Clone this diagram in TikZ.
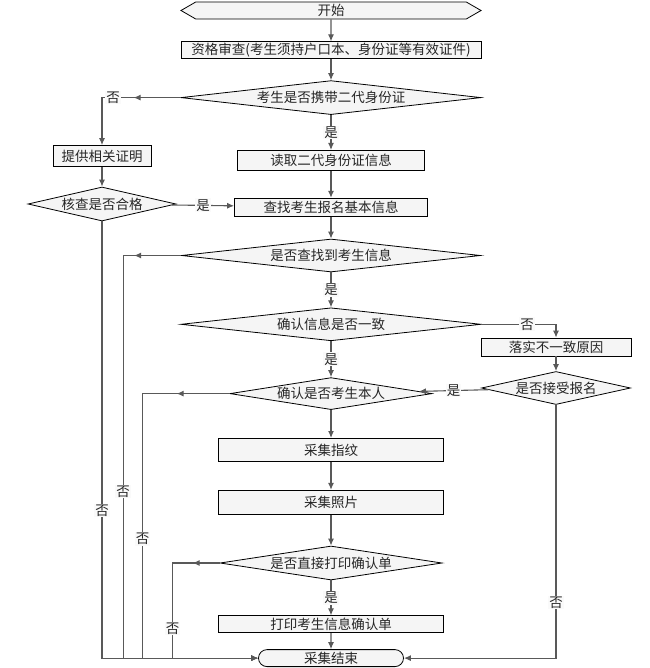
\documentclass[tikz,border=0pt]{standalone}
\usepackage{fontspec}
\usepackage{tikz}
\newfontfamily\cjk{Noto Sans CJK SC}
\usetikzlibrary{arrows.meta}
\usetikzlibrary{positioning}
\usetikzlibrary{shapes.geometric}
\usetikzlibrary{shapes.misc}
\usetikzlibrary{shapes.symbols}
\usetikzlibrary{decorations.markings}

\tikzset{
  base/.style={draw=black, line width=0.8pt, fill=gray!8, text=black!85,
    font=\cjk\fontsize{13.5}{15}\selectfont, inner sep=1pt},
  proc/.style={base, rectangle, minimum height=17pt},
  decide/.style={base, diamond, aspect=7, inner sep=0pt},
  startbox/.style={base, signal, signal to=east and west, signal pointer angle=60,
    minimum width=300pt, minimum height=17pt},
  endbox/.style={base, rounded rectangle, minimum width=147pt, minimum height=17pt},
  flow/.style={draw=black!65, line width=1.1pt, -{Latex[length=7pt,width=6pt]}},
  lbl/.style={fill=gray!4, inner sep=1pt, text=black!85,
    font=\cjk\fontsize{13.5}{15}\selectfont},
  midarrow/.style={postaction={decorate}, decoration={markings,
    mark=at position #1 with {\arrow{Latex[length=7pt,width=6pt]}}}},
}

\begin{document}
\begin{tikzpicture}[x=1pt, y=-1pt]
    \useasboundingbox (0,0) rectangle (649,668);
    % main column
    \node[startbox] (start) at (331,10.5) {开始};
    \node[proc, minimum width=300pt, below=22pt of start] (review) {资格审查(考生须持户口本、身份证等有效证件)};
    \node[decide, minimum width=300pt, minimum height=34pt, below=21pt of review] (carry) {考生是否携带二代身份证};
    \node[proc, minimum width=187pt, minimum height=20pt, below=35pt of carry] (read) {读取二代身份证信息};
    \node[proc, minimum width=193pt, minimum height=18pt, below=27pt of read] (search) {查找考生报名基本信息};
    \node[decide, minimum width=299pt, minimum height=33pt, below=22pt of search] (found) {是否查找到考生信息};
    \node[decide, minimum width=300pt, minimum height=33pt, below=35pt of found] (match) {确认信息是否一致};
    \node[decide, minimum width=202pt, minimum height=32pt, below=36pt of match] (self) {确认是否考生本人};
    \node[proc, minimum width=225pt, minimum height=23pt, below=28pt of self] (finger) {采集指纹};
    \node[proc, minimum width=225pt, minimum height=24pt, below=28pt of finger] (photo) {采集照片};
    \node[decide, minimum width=222pt, minimum height=34pt, below=31pt of photo] (direct) {是否直接打印确认单};
    \node[proc, minimum width=225pt, minimum height=17pt, below=35pt of direct] (print) {打印考生信息确认单};
    \node[endbox, below=16pt of print] (stop) {采集结束};
    % side nodes
    \node[proc, minimum width=98pt, minimum height=21pt] (proof) at (102,156) {提供相关证明};
    \node[decide, aspect=4.5, minimum width=148pt, minimum height=34pt] (check) at (102,204) {核查是否合格};
    \node[proc, minimum width=150pt, minimum height=18pt] (reason) at (556,347) {落实不一致原因};
    \node[decide, aspect=4.5, minimum width=149pt, minimum height=33pt] (accept) at (556,388) {是否接受报名};

    \draw[flow] (start) -- (review);
    \draw[flow] (review) -- (carry);
    \draw[flow] (carry) -- node[lbl]{是} (read);
    \draw[flow, midarrow=47pt] (carry.west) -| node[lbl, pos=0.43]{否} (proof.north);
    \draw[flow] (read) -- (search);
    \draw[flow] (proof) -- (check);
    \draw[flow] (check) -- node[lbl]{是} (search);
    \draw[flow] (search) -- (found);
    \draw[flow] (found) -- node[lbl]{是} (match);
    \draw[flow, midarrow=47pt] (found.west) -- ++(-58,0) |- node[lbl, pos=0.293]{否} (stop.west);
    \draw[flow] (match) -- node[lbl]{是} (self);
    \draw[flow] (match.east) -| node[lbl, pos=0.307]{否} (reason.north);
    \draw[flow] (reason) -- (accept);
    \draw[flow] (accept) -- node[lbl]{是} (self);
    \draw[flow, midarrow=53pt] (self.west) -- ++(-87,0) |- node[lbl, pos=0.275]{否} (stop.west);
    \draw[flow] (self) -- (finger);
    \draw[flow] (finger) -- (photo);
    \draw[flow] (photo) -- (direct);
    \draw[flow] (direct) -- node[lbl]{是} (print);
    \draw[flow, midarrow=27pt] (direct.west) -- ++(-47,0) |- node[lbl, pos=0.344]{否} (stop.west);
    \draw[flow] (print) -- (stop);
    \draw[flow] (check.south) |- node[lbl, pos=0.331]{否} (stop.west);
    \draw[flow] (accept.south) |- node[lbl, pos=0.39]{否} (stop.east);
\end{tikzpicture}
\end{document}
